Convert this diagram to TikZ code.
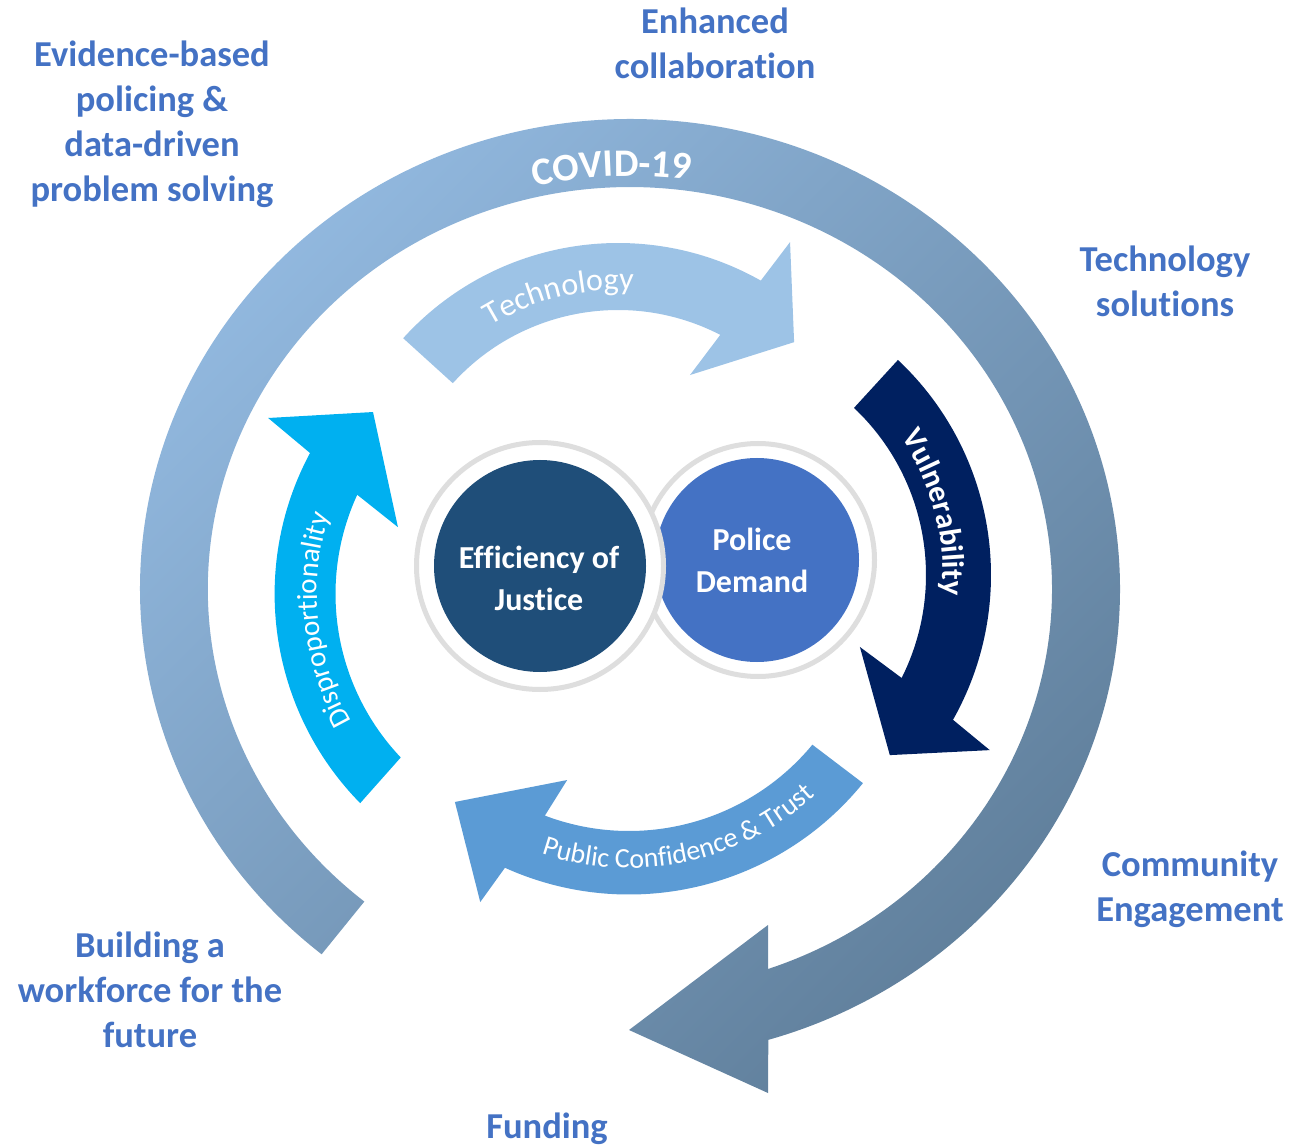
\documentclass[tikz,border=0pt]{standalone}
\usepackage{fontspec}
\setmainfont{Carlito}[Ligatures=NoCommon]
\usetikzlibrary{decorations.text}

\definecolor{labelblue}{HTML}{4472C4}
\definecolor{bandlight}{HTML}{94BBE2}
\definecolor{banddark}{HTML}{5F7E9A}
\definecolor{techblue}{HTML}{9DC3E6}
\definecolor{vulnnavy}{HTML}{002060}
\definecolor{trustblue}{HTML}{5B9BD5}
\definecolor{dispcyan}{HTML}{00B0F0}
\definecolor{justicenavy}{HTML}{1F4E79}
\definecolor{demandblue}{HTML}{4472C4}
\definecolor{ringgrey}{HTML}{DEDEDE}

\tikzset{
  outerlabel/.style={text=labelblue, align=center,
    font=\fontsize{36.5}{45}\bfseries\selectfont, inner sep=0pt},
  circlelabel/.style={text=white, align=center,
    font=\fontsize{32}{42}\bfseries\selectfont, inner sep=0pt},
  bigband/.style={top color=bandlight, bottom color=banddark, shading angle=45},
  ringnode/.style={circle, draw=ringgrey, line width=5pt, fill=white, inner sep=0pt},
  discnode/.style={circle, inner sep=0pt},
}

% white text set along a path: size, weight, text
\newcommand{\curvedlabel}[3]{%
  \path[decorate, decoration={text along path, text align=center,
    text={|\color{white}\fontsize{#1}{#1}#2\selectfont|#3}}]}

\begin{document}
\begin{tikzpicture}[x=1pt, y=-1pt]
\useasboundingbox (0,0) rectangle (1291,1147);

% outer COVID-19 band with its arrow head
\begin{scope}[shift={(630,589)}]
  \path[bigband] (129:490 and 470)
    arc[start angle=129, end angle=433.6, x radius=490, y radius=470]
    -- (138,504) -- (-1,441) -- (138,336) -- (138,380)
    arc[start angle=430.9, end angle=129, x radius=422, y radius=402] -- cycle;
  \curvedlabel{39}{\bfseries}{COVID-19} (237.6:432 and 413)
    arc[start angle=237.6, end angle=297.6, x radius=432, y radius=413];
\end{scope}

% Technology
\begin{scope}[shift={(618,533)}]
  \fill[techblue] (-137.8:290) arc[start angle=-137.8, end angle=-60.5, radius=290]
    -- (-59.4:338) -- (-47.3:259.7) -- (-65.5:173.6) -- (-62.7:223)
    arc[start angle=-62.7, end angle=-137.8, radius=223] -- cycle;
  \curvedlabel{32}{}{Technology} (-134:243) arc[start angle=-134, end angle=-74, radius=243];
\end{scope}

% Vulnerability
\begin{scope}[shift={(696,575)}]
  \fill[vulnnavy] (-46.8:295) arc[start angle=-46.8, end angle=29.4, radius=295]
    -- (30.8:342) -- (42.9:264.6) -- (23.7:179) -- (26.6:230)
    arc[start angle=26.6, end angle=-46.6, radius=230] -- cycle;
  \curvedlabel{31}{\bfseries}{Vulnerability} (-44.7:247) arc[start angle=-44.7, end angle=15.3, radius=247];
\end{scope}

% Public Confidence & Trust
\begin{scope}[shift={(629,593)}]
  \fill[trustblue] (39.1:301.5) arc[start angle=39.1, end angle=114.3, radius=301.5]
    -- (115.7:343) -- (129.8:272) -- (108.3:197) -- (110.7:238)
    arc[start angle=110.7, end angle=39.6, radius=238] -- cycle;
  \curvedlabel{28}{}{Public Confidence {\&} Trust} (108:275) arc[start angle=108, end angle=48, radius=275];
\end{scope}

% Disproportionality
\begin{scope}[shift={(573,594)}]
  \fill[dispcyan] (135.5:298.4) arc[start angle=135.5, end angle=208.2, radius=298.4]
    -- (210:352) -- (222.3:270.4) -- (200.9:187.4) -- (204.7:237.5)
    arc[start angle=204.7, end angle=136.5, radius=237.5] -- cycle;
  \curvedlabel{29}{}{Disproportionality} (144:256) arc[start angle=144, end angle=204, radius=256];
\end{scope}

% the two central discs
\node[ringnode, minimum size=233pt] (demandring) at (758,560) {};
\node[discnode, fill=demandblue, minimum size=204pt] (demand) at (757,560) {};
\node[ringnode, minimum size=247pt] (justicering) at (540,566) {};
\node[discnode, fill=justicenavy, minimum size=212pt] (justice) at (540,566) {};
\node[circlelabel] (justicetext) at (539,578) {Efficiency of\\Justice};
\node[circlelabel] (demandtext) at (752,560) {Police\\Demand};

% surrounding labels
\node[outerlabel] (evidence) at (152,124) {Evidence-based\\policing \&\\data-driven\\problem solving};
\node[outerlabel] (collab) at (715,43) {Enhanced\\collaboration};
\node[outerlabel] (techsol) at (1165,281) {Technology\\solutions};
\node[outerlabel] (community) at (1190,889) {Community\\Engagement};
\node[outerlabel] (workforce) at (150,990) {Building a\\workforce for the\\future};
\node[outerlabel] (funding) at (547,1129) {Funding};
\end{tikzpicture}
\end{document}
